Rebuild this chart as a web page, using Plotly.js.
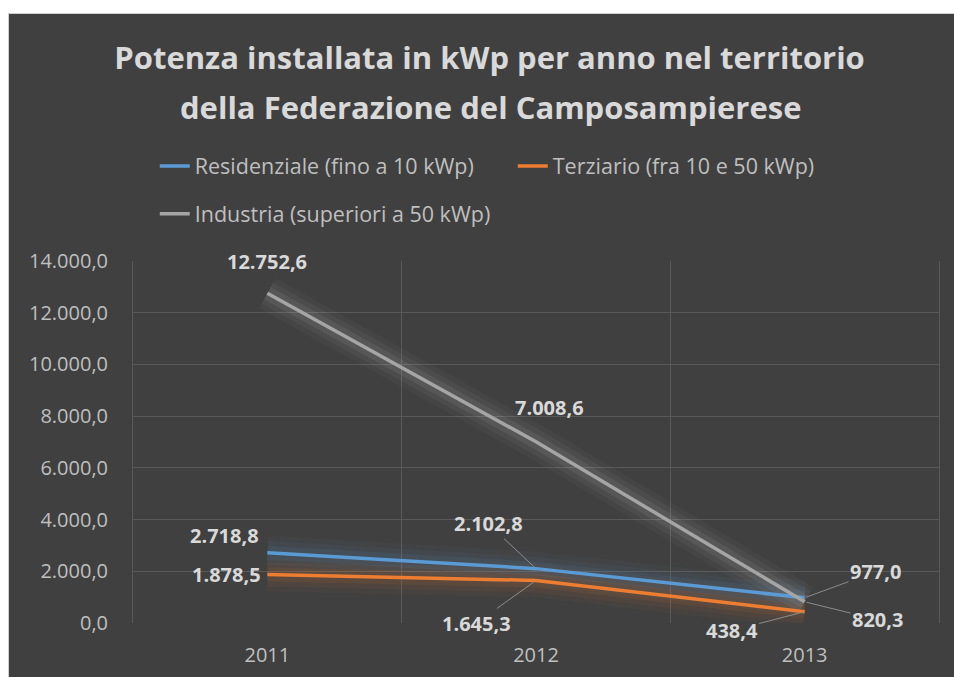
<!DOCTYPE html>
<html>
<head>
<meta charset="utf-8">
<script src="https://cdn.plot.ly/plotly-3.0.1.min.js"></script>
<style>
  html, body { margin: 0; padding: 0; background: #ffffff; width: 954px; height: 677px; overflow: hidden; }
  #chart { position: absolute; left: 8px; top: 13px; width: 946px; height: 664px; border-left: 1px solid #d0d0d0; border-top: 1px solid #d0d0d0; box-sizing: border-box; }
</style>
</head>
<body>
<div id="chart"></div>
<script>
// ---- data ----
const years = [2011, 2012, 2013];
const seriesNames = ['Residenziale (fino a 10 kWp)', 'Terziario (fra 10 e 50 kWp)', 'Industria (superiori a 50 kWp)'];
const residenziale = [2718.8, 2102.8, 977.0];
const terziario = [1878.5, 1645.3, 438.4];
const industria = [12752.6, 7008.6, 820.3];
const titleLines = ['Potenza installata in kWp per anno nel territorio', 'della Federazione del Camposampierese'];
const yTickStep = 2000;
const yMax = 14000;

// ---- style ----
const colors = ['#5B9BD5', '#ED7D31', '#A5A5A5'];
const glowRGB = ['91,155,213', '237,125,49', '200,200,200'];
const bg = '#404040';
const textCol = '#d9d9d9';
const gridCol = '#595959';
const font = 'Open Sans, sans-serif';

// label offsets (pixels) per series per point: [dx, dy, leader]
const labelOffsets = [
  [[-43, -17, false], [-48, -45, true], [71, -26, true]],
  [[-41, 0, false], [-60, 43, true], [-73, 19, true]],
  [[0, -32, false], [13, -34, false], [73, 18, true]]
];

function fmt(v) {
  const parts = v.toFixed(1).split('.');
  const i = parts[0].replace(/\B(?=(\d{3})+(?!\d))/g, '.');
  return i + ',' + parts[1];
}

const allSeries = [residenziale, terziario, industria];
const traces = [];
allSeries.forEach((vals, s) => {
  [[34, 0.04], [24, 0.06], [14, 0.09]].forEach(g => {
    traces.push({
      x: years, y: vals, type: 'scatter', mode: 'lines',
      line: { color: 'rgba(' + glowRGB[s] + ',' + g[1] + ')', width: g[0] },
      showlegend: false, hoverinfo: 'skip'
    });
  });
});
allSeries.forEach((vals, s) => {
  traces.push({
    x: years, y: vals, type: 'scatter', mode: 'lines', name: seriesNames[s],
    line: { color: colors[s], width: 3.5 },
    legend: s === 2 ? 'legend2' : 'legend',
    hoverinfo: 'skip'
  });
});

const annotations = [];
allSeries.forEach((vals, s) => {
  vals.forEach((v, i) => {
    const o = labelOffsets[s][i];
    const a = {
      x: years[i], y: v, xref: 'x', yref: 'y',
      text: '<b>' + fmt(v) + '</b>',
      font: { family: font, size: 20, color: textCol }
    };
    if (o[2]) {
      a.showarrow = true; a.arrowhead = 0; a.arrowwidth = 1; a.arrowcolor = '#8c8c8c';
      a.ax = o[0]; a.ay = o[1]; a.standoff = 2;
    } else {
      a.showarrow = false; a.xshift = o[0]; a.yshift = -o[1];
    }
    annotations.push(a);
  });
});
// second title line
annotations.push({
  xref: 'paper', yref: 'paper', x: 0.443, y: 1.425, xanchor: 'center', yanchor: 'middle',
  showarrow: false, text: '<b>' + titleLines[1] + '</b>',
  font: { family: font, size: 31, color: textCol }
});

const yTicks = [];
for (let t = 0; t <= yMax; t += yTickStep) yTicks.push(t);

const layout = {
  width: 946, height: 664,
  paper_bgcolor: bg, plot_bgcolor: bg,
  separators: ',.',
  margin: { l: 124, r: 16, t: 247, b: 55 },
  title: {
    text: '<b>' + titleLines[0] + '</b>',
    font: { family: font, size: 31, color: textCol },
    x: 0.508, xanchor: 'center', xref: 'container',
    y: 0.934, yanchor: 'middle', yref: 'container'
  },
  xaxis: {
    type: 'linear', range: [years[0] - 0.5, years[years.length - 1] + 0.5],
    tickvals: years, ticktext: years.map(String),
    showgrid: false, zeroline: false, showline: false,
    ticks: 'outside', ticklen: 14, tickcolor: 'rgba(0,0,0,0)',
    tickfont: { family: font, size: 20, color: '#bfbfbf' },
    minor: { tick0: years[0] - 0.5, dtick: 1, showgrid: true, gridcolor: gridCol, gridwidth: 1, ticks: '' },
    fixedrange: true
  },
  yaxis: {
    range: [0, yMax], tickvals: yTicks, tickformat: ',.1f',
    showgrid: true, gridcolor: gridCol, gridwidth: 1,
    zeroline: true, zerolinecolor: bg,
    showline: true, mirror: true, linecolor: gridCol, linewidth: 1,
    ticks: 'outside', ticklen: 20, tickcolor: 'rgba(0,0,0,0)',
    tickfont: { family: font, size: 20, color: '#bfbfbf' },
    fixedrange: true
  },
  legend: {
    orientation: 'h', x: 0.027, xanchor: 'left', xref: 'paper',
    y: 0.771, yanchor: 'middle', yref: 'container',
    font: { family: font, size: 21.5, color: '#bfbfbf' },
    entrywidth: 313, entrywidthmode: 'pixels',
    bgcolor: 'rgba(0,0,0,0)', traceorder: 'normal'
  },
  legend2: {
    orientation: 'h', x: 0.027, xanchor: 'left', xref: 'paper',
    y: 0.699, yanchor: 'middle', yref: 'container',
    font: { family: font, size: 21.5, color: '#bfbfbf' },
    bgcolor: 'rgba(0,0,0,0)'
  },
  annotations: annotations,
  showlegend: true,
  hovermode: false
};

Plotly.newPlot('chart', traces, layout, { displayModeBar: false, staticPlot: true });
</script>
</body>
</html>
